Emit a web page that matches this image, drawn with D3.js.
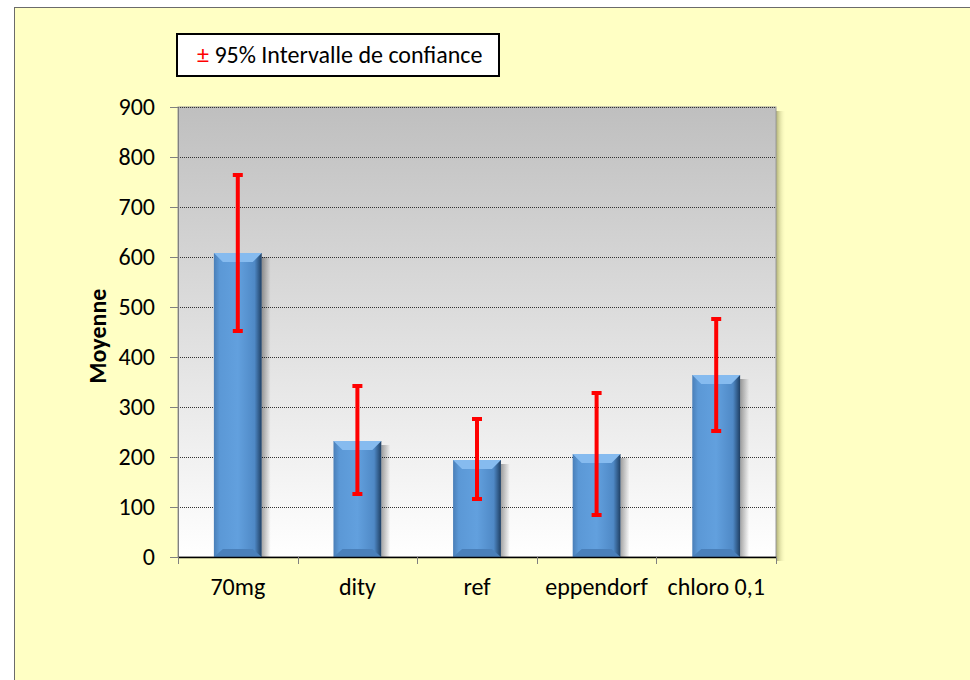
<!DOCTYPE html>
<html>
<head>
<meta charset="utf-8">
<script src="https://cdn.jsdelivr.net/npm/d3@7"></script>
<style>
  body { margin: 0; background: #fff; }
  text { font-family: Carlito, "Open Sans", "Liberation Sans", sans-serif; }
</style>
</head>
<body>
<svg class="chart" width="970" height="680"></svg>
<script>
var categories = ["70mg", "dity", "ref", "eppendorf", "chloro 0,1"];
var means = [608, 232, 194, 206, 364];
var ciLow = [452, 126, 116, 84, 252];
var ciHigh = [764, 342, 276, 328, 476];
var yTicks = [0, 100, 200, 300, 400, 500, 600, 700, 800, 900];

var svg = d3.select(".chart");
var margin = { top: 107, right: 194, bottom: 123, left: 178 };
var width = 970 - margin.left - margin.right;
var height = 680 - margin.top - margin.bottom;

var defs = svg.append("defs");

var bg = defs.append("linearGradient").attr("id", "plotbg").attr("x1", 0).attr("y1", 0).attr("x2", 0).attr("y2", 1);
bg.append("stop").attr("offset", "0%").attr("stop-color", "#bfbfbf");
bg.append("stop").attr("offset", "100%").attr("stop-color", "#ffffff");

var barGrad = defs.append("linearGradient").attr("id", "bargrad").attr("x1", 0).attr("y1", 0).attr("x2", 1).attr("y2", 0);
barGrad.append("stop").attr("offset", "0%").attr("stop-color", "#4a7fb8");
barGrad.append("stop").attr("offset", "12%").attr("stop-color", "#5b98d6");
barGrad.append("stop").attr("offset", "50%").attr("stop-color", "#62a0de");
barGrad.append("stop").attr("offset", "85%").attr("stop-color", "#4f89c6");
barGrad.append("stop").attr("offset", "100%").attr("stop-color", "#1f3f63");

var shadowGrad = defs.append("linearGradient").attr("id", "shadowgrad").attr("x1", 0).attr("y1", 0).attr("x2", 1).attr("y2", 0);
shadowGrad.append("stop").attr("offset", "0%").attr("stop-color", "#000").attr("stop-opacity", 0.35);
shadowGrad.append("stop").attr("offset", "100%").attr("stop-color", "#000").attr("stop-opacity", 0);

var plotShadow = defs.append("linearGradient").attr("id", "plotshadow").attr("x1", 0).attr("y1", 0).attr("x2", 1).attr("y2", 0);
plotShadow.append("stop").attr("offset", "0%").attr("stop-color", "#8a8a50").attr("stop-opacity", 0.7);
plotShadow.append("stop").attr("offset", "100%").attr("stop-color", "#ffffc4").attr("stop-opacity", 0);

// page background and frame
svg.append("rect").attr("width", 970).attr("height", 680).attr("fill", "#fff");
svg.append("rect")
	.attr("x", 14.5).attr("y", 7.5)
	.attr("width", 970).attr("height", 690)
	.attr("fill", "#ffffc4")
	.attr("stroke", "#6b6b6b").attr("stroke-width", 1);

var g = svg.append("g").attr("transform", "translate(" + margin.left + "," + margin.top + ")");

var x = d3.scaleBand().domain(categories).range([0, width]).paddingInner(0.6).paddingOuter(0.3);
var xb = d3.scaleBand().domain(categories).range([0, width]);
var y = d3.scaleLinear().domain([0, 900]).range([height, 0]);

// plot area shadow + fill
g.append("rect").attr("x", width).attr("y", 4).attr("width", 10).attr("height", height).attr("fill", "url(#plotshadow)");
g.append("rect").attr("width", width).attr("height", height).attr("fill", "url(#plotbg)")
	.attr("stroke", "#9a9a9a").attr("stroke-width", 1);

// gridlines
g.append("g")
	.selectAll("line")
	.data(yTicks.filter(function (d) { return d > 0; }))
	.enter().append("line")
		.attr("x1", 0).attr("x2", width)
		.attr("y1", function (d) { return y(d) + 0.5; })
		.attr("y2", function (d) { return y(d) + 0.5; })
		.attr("stroke", "#333")
		.attr("stroke-width", 1)
		.attr("stroke-dasharray", "1,1");

// y axis
var yAxis = g.append("g")
	.call(d3.axisLeft(y).tickValues(yTicks).tickSize(8).tickPadding(15));
yAxis.select(".domain").attr("stroke", "#808080");
yAxis.selectAll(".tick line").attr("stroke", "#808080");
yAxis.selectAll(".tick text").attr("font-size", "24px").attr("fill", "#000");

// bars
var bar = g.selectAll(".bar")
	.data(categories)
	.enter().append("g")
		.attr("class", "bar");

bar.append("rect")
	.attr("x", function (d) { return x(d) + x.bandwidth(); })
	.attr("y", function (d, i) { return y(means[i]) + 4; })
	.attr("width", 9)
	.attr("height", function (d, i) { return height - y(means[i]) - 4; })
	.attr("fill", "url(#shadowgrad)");

bar.append("rect")
	.attr("x", function (d) { return x(d); })
	.attr("y", function (d, i) { return y(means[i]); })
	.attr("width", x.bandwidth())
	.attr("height", function (d, i) { return height - y(means[i]); })
	.attr("fill", "url(#bargrad)");

// top bevel
bar.append("path")
	.attr("d", function (d, i) {
		var x0 = x(d), x1 = x(d) + x.bandwidth(), t = y(means[i]);
		return "M" + x0 + "," + t + "L" + x1 + "," + t + "L" + (x1 - 9) + "," + (t + 9) + "L" + (x0 + 9) + "," + (t + 9) + "Z";
	})
	.attr("fill", "#86bbef");

// bottom bevel
bar.append("path")
	.attr("d", function (d) {
		var x0 = x(d), x1 = x(d) + x.bandwidth(), b = height;
		return "M" + x0 + "," + b + "L" + x1 + "," + b + "L" + (x1 - 9) + "," + (b - 8) + "L" + (x0 + 9) + "," + (b - 8) + "Z";
	})
	.attr("fill", "#4a80ba");

// x axis
var xAxis = g.append("g")
	.attr("transform", "translate(0," + height + ")")
	.call(d3.axisBottom(xb).tickSize(0).tickPadding(21));
xAxis.select(".domain").attr("stroke", "#000").attr("stroke-width", 1.5);
xAxis.selectAll(".tick text").attr("font-size", "24px").attr("fill", "#000");

g.append("g")
	.selectAll("line")
	.data(d3.range(categories.length + 1))
	.enter().append("line")
		.attr("x1", function (i) { return Math.round(i * xb.step()) + 0.5; })
		.attr("x2", function (i) { return Math.round(i * xb.step()) + 0.5; })
		.attr("y1", height).attr("y2", height + 7)
		.attr("stroke", "#808080");

// error bars
var err = g.selectAll(".err")
	.data(categories)
	.enter().append("g")
		.attr("class", "err")
		.attr("stroke", "#ff0000")
		.attr("stroke-width", 4);

err.append("line")
	.attr("x1", function (d) { return x(d) + x.bandwidth() / 2; })
	.attr("x2", function (d) { return x(d) + x.bandwidth() / 2; })
	.attr("y1", function (d, i) { return y(ciLow[i]); })
	.attr("y2", function (d, i) { return y(ciHigh[i]); });

err.selectAll(".cap")
	.data(function (d, i) { return [{ c: d, v: ciLow[i] }, { c: d, v: ciHigh[i] }]; })
	.enter().append("line")
		.attr("x1", function (d) { return x(d.c) + x.bandwidth() / 2 - 5; })
		.attr("x2", function (d) { return x(d.c) + x.bandwidth() / 2 + 5; })
		.attr("y1", function (d) { return y(d.v); })
		.attr("y2", function (d) { return y(d.v); });

// y label
svg.append("text")
	.attr("transform", "translate(106," + (margin.top + height / 2 + 4) + ") rotate(-90)")
	.attr("text-anchor", "middle")
	.attr("font-size", "24px")
	.attr("font-weight", "bold")
	.text("Moyenne");

// legend
var legend = svg.append("g");
legend.append("rect")
	.attr("x", 177).attr("y", 34)
	.attr("width", 322).attr("height", 42)
	.attr("fill", "#fff")
	.attr("stroke", "#000").attr("stroke-width", 2);
var lt = legend.append("text")
	.attr("x", 197).attr("y", 63)
	.attr("font-size", "24px");
lt.append("tspan").attr("fill", "#ff0000").text("±");
lt.append("tspan").attr("fill", "#000").text(" 95% Intervalle de confiance");
</script>
</body>
</html>
